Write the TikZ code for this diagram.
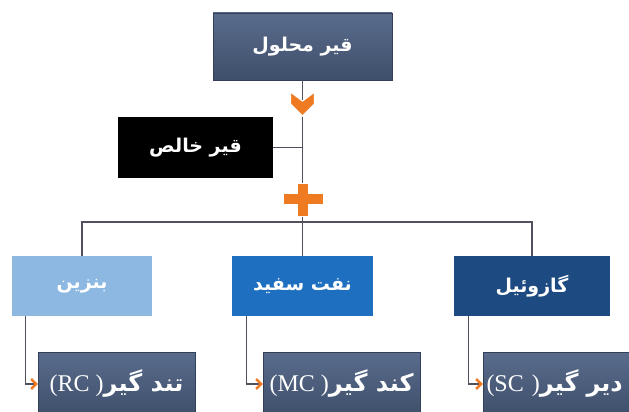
\documentclass[tikz,border=0pt]{standalone}
\usepackage{fontspec}
\usepackage{tikz}
\usetikzlibrary{arrows.meta}
\TeXXeTstate=1
\newfontfamily\arabicfont[Script=Arabic]{DejaVu Sans}
\newfontfamily\latinfont{Liberation Serif}
\newcommand{\fa}[1]{{\arabicfont\bfseries\beginR #1\endR}}
\definecolor{slate}{HTML}{3E4F6B}
\definecolor{slatelight}{HTML}{5A6C8C}
\definecolor{lightblue}{HTML}{8DB8E2}
\definecolor{midblue}{HTML}{1F6FC0}
\definecolor{navy}{HTML}{1D4A80}
\definecolor{linegray}{HTML}{50505E}
\definecolor{arroworange}{HTML}{EE7A22}

\begin{document}
\begin{tikzpicture}[x=1pt,y=-1pt,
                    main node/.style={rectangle,inner sep=0pt,text=white,minimum height=60pt,
                      font=\fontsize{19}{22}\selectfont},
                    dark node/.style={main node,top color=slatelight,bottom color=slate,draw=slate!80!black},
                    low node/.style={dark node,minimum width=157pt,minimum height=64pt,
                      font=\fontsize{24}{28}\selectfont},
                    link/.style={draw=linegray,line width=1.3pt},
                    tip/.style={-{Straight Barb[color=arroworange,length=5pt,width=10pt,line width=2.4pt]}}]

  \clip (0,0) rectangle (629,412);
  \fill[white] (0,0) rectangle (629,412);

  \node[dark node,minimum width=179pt,minimum height=67pt] (1) at (302.5,46.5) {\fa{قیر محلول}};
  \node[main node,fill=black,minimum width=155pt,minimum height=61pt] (2) at (195.5,147.5) {\fa{قیر خالص}};
  \node[main node,fill=lightblue,minimum width=140pt] (3) at (82,286) {\fa{بنزین}};
  \node[main node,fill=midblue,minimum width=141pt] (4) at (302.5,286) {\fa{نفت سفید}};
  \node[main node,fill=navy,minimum width=156pt] (5) at (532,286) {\fa{گازوئیل}};
  \node[low node] (6) at (116.5,384) {{\latinfont (RC )}\fa{تند گیر}};
  \node[low node] (7) at (341.5,384) {{\latinfont (MC )}\fa{کند گیر}};
  \node[low node,text width=150pt,align=left] (8) at (561.5,384) {{\latinfont (SC )}\fa{دیر گیر}};

  \coordinate (hub) at (302.5,222);
  \path[link]
    (1.south) -- (hub)
    (2.east) -- (2.east -| hub)
    (3.north) |- (hub) -| (5.north)
    (hub) -- (4.north);

  \draw[link,tip] ([xshift=14pt]3.south west) |- (6.west);
  \draw[link,tip] ([xshift=15pt]4.south west) |- (7.west);
  \draw[link,tip] ([xshift=15pt]5.south west) |- (8.west);

  \filldraw[fill=arroworange,draw=white,line width=1.2pt]
    (290.5,92) -- (302.5,101) -- (314.5,92) -- (314.5,104) -- (302.5,116) -- (290.5,104) -- cycle;
  \filldraw[fill=arroworange,draw=white,line width=0.8pt]
    (297,183) -- (308,183) -- (308,193) -- (323,193) -- (323,204) -- (308,204)
    -- (308,216) -- (297,216) -- (297,204) -- (283,204) -- (283,193) -- (297,193) -- cycle;
\end{tikzpicture}
\end{document}
